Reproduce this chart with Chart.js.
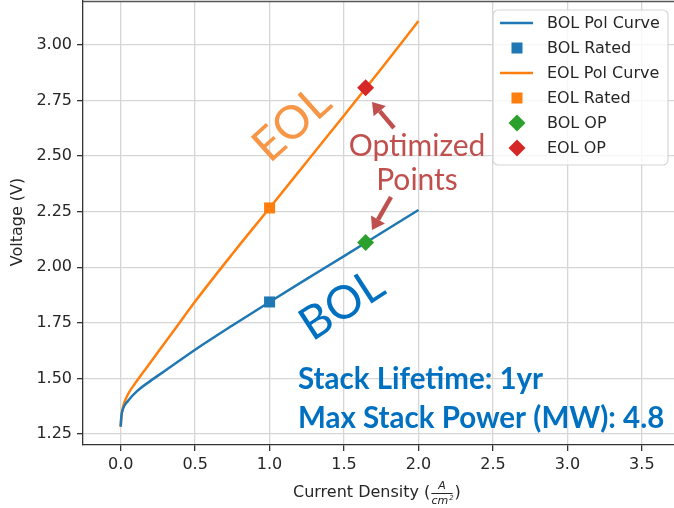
<!DOCTYPE html>
<html>
<head>
<meta charset="utf-8">
<script src="https://cdn.jsdelivr.net/npm/chart.js@4.4.1/dist/chart.umd.min.js"></script>
<style>
  html, body { margin: 0; padding: 0; background: #fff; }
  #wrap { width: 674px; height: 508px; position: relative; overflow: hidden; }
</style>
</head>
<body>
<div id="wrap"><canvas id="polChart"></canvas></div>
<script>
// polarization curves
const bolCurrent = [0, 0.005, 0.017, 0.05, 0.11, 0.2, 0.31, 0.5, 0.75, 1.0, 1.25, 1.5, 1.75, 2.0];
const bolVoltage = [1.283, 1.33, 1.365, 1.4, 1.443, 1.489, 1.540, 1.629, 1.738, 1.844, 1.948, 2.05, 2.154, 2.258];
const eolCurrent = [0, 0.005, 0.017, 0.05, 0.09, 0.18, 0.36, 0.5, 0.75, 1.0, 1.25, 1.5, 1.75, 2.0];
const eolVoltage = [1.283, 1.33, 1.375, 1.43, 1.471, 1.554, 1.718, 1.846, 2.06, 2.267, 2.475, 2.683, 2.893, 3.108];

// rated and optimized points
const ratedCurrent = [1.0];
const bolRatedVoltage = [1.844];
const eolRatedVoltage = [2.267];
const opCurrent = [1.645];
const bolOpVoltage = [2.111];
const eolOpVoltage = [2.808];

const xTicks = [0, 0.5, 1.0, 1.5, 2.0, 2.5, 3.0, 3.5];
const yTicks = [1.25, 1.5, 1.75, 2.0, 2.25, 2.5, 2.75, 3.0];

const seriesLabels = ['BOL Pol Curve', 'BOL Rated', 'EOL Pol Curve', 'EOL Rated', 'BOL OP', 'EOL OP'];

const toPoints = (xs, ys) => xs.map((x, i) => ({ x: x, y: ys[i] }));

const BLUE = '#1f77b4', ORANGE = '#ff7f0e', GREEN = '#2ca02c', RED = '#d62728';
const TICK_FONT = { family: 'DejaVu Sans', size: 16 };

// axis titles, legend box and the text notes
const extrasPlugin = {
    id: 'extras',
    afterDraw(chart) {
        const ctx = chart.ctx;
        const area = chart.chartArea;

        // top spine
        ctx.save();
        ctx.strokeStyle = '#555';
        ctx.lineWidth = 1.3;
        ctx.beginPath();
        ctx.moveTo(area.left, area.top + 0.5);
        ctx.lineTo(area.right, area.top + 0.5);
        ctx.stroke();

        // y title
        ctx.fillStyle = '#262626';
        ctx.font = '16px "DejaVu Sans"';
        ctx.textAlign = 'center';
        ctx.textBaseline = 'middle';
        ctx.save();
        ctx.translate(18, 222);
        ctx.rotate(-Math.PI / 2);
        ctx.fillText('Voltage (V)', 0, 0);
        ctx.restore();

        // x title with the A/cm² fraction
        ctx.textAlign = 'left';
        const head = 'Current Density (';
        const hw = ctx.measureText(head).width;
        const x0 = 293, yMid = 493;
        ctx.fillText(head, x0, yMid);
        ctx.font = '11px "DejaVu Sans"';
        const fx = x0 + hw + 1;
        const cmw = ctx.measureText('cm²').width;
        ctx.textAlign = 'center';
        ctx.font = 'italic 11px "DejaVu Sans"';
        ctx.fillText('A', fx + cmw / 2, yMid - 7);
        ctx.fillText('cm', fx + cmw / 2 - 2, yMid + 8);
        ctx.font = 'italic 7px "DejaVu Sans"';
        ctx.fillText('2', fx + cmw - 1, yMid + 5);
        ctx.fillRect(fx, yMid, cmw, 1);
        ctx.font = '16px "DejaVu Sans"';
        ctx.textAlign = 'left';
        ctx.fillText(')', fx + cmw + 2, yMid);

        // legend
        const lx = 493, ly = 10, lw = 175, lh = 155;
        ctx.beginPath();
        ctx.roundRect(lx, ly, lw, lh, 5);
        ctx.fillStyle = 'rgba(255,255,255,0.8)';
        ctx.fill();
        ctx.strokeStyle = '#d5d5d5';
        ctx.lineWidth = 1.2;
        ctx.stroke();
        ctx.font = '16px "DejaVu Sans"';
        ctx.textBaseline = 'middle';
        chart.data.datasets.forEach((ds, i) => {
            const y = 23 + i * 25;
            if (ds.showLine) {
                ctx.strokeStyle = ds.borderColor;
                ctx.lineWidth = ds.borderWidth;
                ctx.beginPath();
                ctx.moveTo(500, y);
                ctx.lineTo(533, y);
                ctx.stroke();
            } else {
                ctx.fillStyle = ds.backgroundColor;
                ctx.beginPath();
                Chart.helpers.drawPoint(ctx, {
                    pointStyle: ds.pointStyle,
                    radius: ds.pointRadius,
                    borderWidth: 0,
                    rotation: 0
                }, 517, y);
            }
            ctx.fillStyle = '#262626';
            ctx.fillText(ds.label, 547, y + 1);
        });

        // big labels on the curves
        const rotText = (txt, cx, cy, deg, font, color) => {
            ctx.save();
            ctx.translate(cx, cy);
            ctx.rotate(deg * Math.PI / 180);
            ctx.font = font;
            ctx.fillStyle = color;
            ctx.textAlign = 'center';
            ctx.textBaseline = 'middle';
            ctx.fillText(txt, 0, 0);
            ctx.restore();
        };
        rotText('EOL', 292, 124, -42, '46px Lato', '#F79646');
        rotText('BOL', 342, 305, -33, '46px Lato', '#0070C0');
        rotText('Optimized', 417, 146, 0, '30px Lato', '#C0504D');
        rotText('Points', 417, 180, 0, '30px Lato', '#C0504D');

        // arrows to the optimized points
        const arrow = (x1, y1, x2, y2) => {
            const a = Math.atan2(y2 - y1, x2 - x1);
            const hl = 12, hw2 = 8;
            const bx = x2 - hl * Math.cos(a), by = y2 - hl * Math.sin(a);
            ctx.strokeStyle = '#C0504D';
            ctx.fillStyle = '#C0504D';
            ctx.lineWidth = 4.5;
            ctx.beginPath();
            ctx.moveTo(x1, y1);
            ctx.lineTo(bx, by);
            ctx.stroke();
            ctx.beginPath();
            ctx.moveTo(x2, y2);
            ctx.lineTo(bx + hw2 * Math.sin(a), by - hw2 * Math.cos(a));
            ctx.lineTo(bx - hw2 * Math.sin(a), by + hw2 * Math.cos(a));
            ctx.closePath();
            ctx.fill();
        };
        arrow(394, 128, 372, 102);
        arrow(391, 197, 372, 230);

        // stack notes
        ctx.font = 'bold 29.5px Lato';
        ctx.fillStyle = '#0070C0';
        ctx.textAlign = 'left';
        ctx.textBaseline = 'alphabetic';
        ctx.fillText('Stack Lifetime: 1yr', 298, 389);
        ctx.fillText('Max Stack Power (MW): 4.8', 298, 428);
        ctx.restore();
    }
};

const noPad = s => { s.paddingTop = 0; s.paddingBottom = 0; s.paddingLeft = 0; s.paddingRight = 0; };

const ctx = document.getElementById('polChart').getContext('2d');
const polChart = new Chart(ctx, {
    type: 'scatter',
    data: {
        datasets: [
            {
                label: seriesLabels[0],
                data: toPoints(bolCurrent, bolVoltage),
                showLine: true,
                borderColor: BLUE,
                borderWidth: 2.5,
                pointRadius: 0,
                cubicInterpolationMode: 'monotone',
                order: 2
            },
            {
                label: seriesLabels[1],
                data: toPoints(ratedCurrent, bolRatedVoltage),
                pointStyle: 'rect',
                pointRadius: 7.8,
                backgroundColor: BLUE,
                borderWidth: 0,
                order: 1
            },
            {
                label: seriesLabels[2],
                data: toPoints(eolCurrent, eolVoltage),
                showLine: true,
                borderColor: ORANGE,
                borderWidth: 2.5,
                pointRadius: 0,
                cubicInterpolationMode: 'monotone',
                order: 2
            },
            {
                label: seriesLabels[3],
                data: toPoints(ratedCurrent, eolRatedVoltage),
                pointStyle: 'rect',
                pointRadius: 7.8,
                backgroundColor: ORANGE,
                borderWidth: 0,
                order: 1
            },
            {
                label: seriesLabels[4],
                data: toPoints(opCurrent, bolOpVoltage),
                pointStyle: 'rectRot',
                pointRadius: 8.5,
                backgroundColor: GREEN,
                borderWidth: 0,
                order: 1
            },
            {
                label: seriesLabels[5],
                data: toPoints(opCurrent, eolOpVoltage),
                pointStyle: 'rectRot',
                pointRadius: 8.5,
                backgroundColor: RED,
                borderWidth: 0,
                order: 1
            }
        ]
    },
    options: {
        responsive: true,
        maintainAspectRatio: false,
        animation: false,
        layout: { autoPadding: false, padding: { top: 1, right: 0, left: 0, bottom: 0 } },
        plugins: {
            legend: { display: false },
            tooltip: { enabled: false }
        },
        scales: {
            x: {
                type: 'linear',
                min: -0.253,
                max: 3.716,
                afterBuildTicks: s => { s.ticks = xTicks.map(v => ({ value: v })); },
                afterFit: s => { s.height = 63; noPad(s); },
                ticks: {
                    font: TICK_FONT,
                    color: '#262626',
                    padding: 4,
                    maxRotation: 0,
                    callback: v => v.toFixed(1)
                },
                grid: { color: '#d6d6d6', lineWidth: 1.3, tickColor: '#333', tickLength: 6, tickWidth: 1.3 },
                border: { color: '#333', width: 1.3 }
            },
            y: {
                type: 'linear',
                min: 1.2005,
                max: 3.198,
                afterBuildTicks: s => { s.ticks = yTicks.map(v => ({ value: v })); },
                afterFit: s => { s.width = 83; noPad(s); },
                ticks: {
                    font: TICK_FONT,
                    color: '#262626',
                    padding: 5,
                    callback: v => v.toFixed(2)
                },
                grid: { color: '#d6d6d6', lineWidth: 1.3, tickColor: '#333', tickLength: 6, tickWidth: 1.3 },
                border: { color: '#333', width: 1.3 }
            }
        }
    },
    plugins: [extrasPlugin]
});
</script>
</body>
</html>
